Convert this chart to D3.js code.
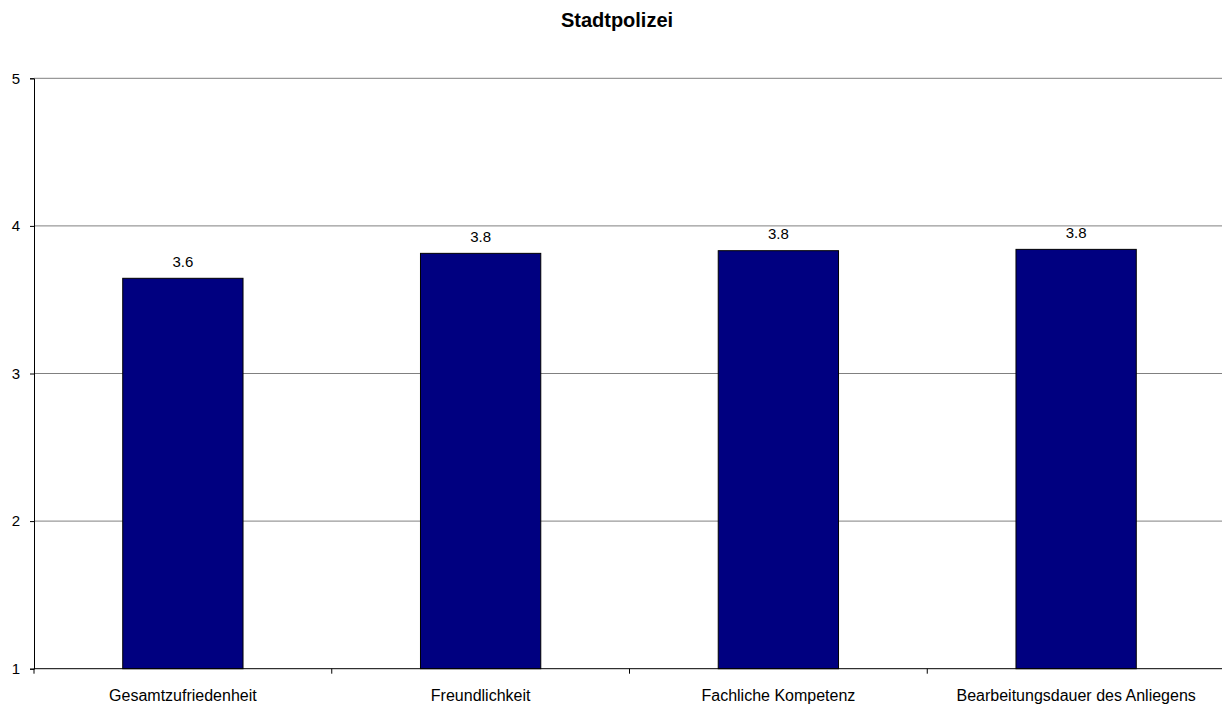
<!DOCTYPE html>
<html><head><meta charset="utf-8">
<script src="https://cdn.jsdelivr.net/npm/d3@7"></script>
<style>body{margin:0;background:#fff}svg{display:block;font-family:Arial,"Liberation Sans",sans-serif}</style>
</head><body><svg id="c" width="1222" height="706"></svg>
<script>
const title = "Stadtpolizei";
const categories = ["Gesamtzufriedenheit","Freundlichkeit","Fachliche Kompetenz","Bearbeitungsdauer des Anliegens"];
const values = [3.645, 3.814, 3.832, 3.841];
const valueLabels = ["3.6","3.8","3.8","3.8"];
const yTicks = [1,2,3,4,5];

(function(){
const svg = d3.select("#c");
const pL = 34, pR = 1225, pT = 78.3, pB = 668.7;
const x = d3.scaleBand().domain(categories).range([pL,pR]).paddingInner(0.596).paddingOuter(0.298);
const xc = d3.scaleBand().domain(categories).range([pL,pR]).padding(0);
const y = d3.scaleLinear().domain([1,5]).range([pB,pT]);

// gridlines
svg.append("g").selectAll("line").data(yTicks.filter(d=>d>1)).join("line")
  .attr("x1",pL).attr("x2",pR).attr("y1",d=>y(d)).attr("y2",d=>y(d))
  .attr("stroke","#808080").attr("stroke-width",1);

// bars
svg.append("g").selectAll("rect").data(values).join("rect")
  .attr("x",(d,i)=>x(categories[i])).attr("width",x.bandwidth())
  .attr("y",d=>y(d)).attr("height",d=>y(1)-y(d))
  .attr("fill","#000080").attr("stroke","#000").attr("stroke-width",1);

// value labels
svg.append("g").selectAll("text").data(values).join("text")
  .attr("x",(d,i)=>x(categories[i])+x.bandwidth()/2).attr("y",d=>y(d)-11.5)
  .attr("text-anchor","middle").attr("font-size",15).attr("fill","#000")
  .text((d,i)=>valueLabels[i]);

// y axis
const ya = svg.append("g").attr("transform",`translate(${pL},0)`)
  .call(d3.axisLeft(y).tickValues(yTicks).tickSize(4).tickPadding(10).tickFormat(d3.format("d")));
ya.select(".domain").attr("stroke","#000");
ya.selectAll(".tick line").attr("stroke","#000");
ya.selectAll(".tick text").attr("font-size",15).attr("font-family","Arial, 'Liberation Sans', sans-serif").attr("fill","#000");

// x axis
const xa = svg.append("g").attr("transform",`translate(0,${pB})`)
  .call(d3.axisBottom(xc).tickSize(0).tickPadding(21));
xa.select(".domain").remove();
xa.append("line").attr("x1",pL).attr("x2",pR).attr("stroke","#000");
xa.selectAll(".tick text").attr("font-size",16).attr("font-family","Arial, 'Liberation Sans', sans-serif").attr("fill","#000");
xa.selectAll("line.sep").data(categories).join("line").attr("class","sep")
  .attr("x1",d=>xc(d)).attr("x2",d=>xc(d)).attr("y1",0).attr("y2",5).attr("stroke","#000");

// title
svg.append("text").attr("x",617).attr("y",27).attr("text-anchor","middle")
  .attr("font-size",20).attr("font-weight","bold").attr("fill","#000").text(title);
})();
</script></body></html>
